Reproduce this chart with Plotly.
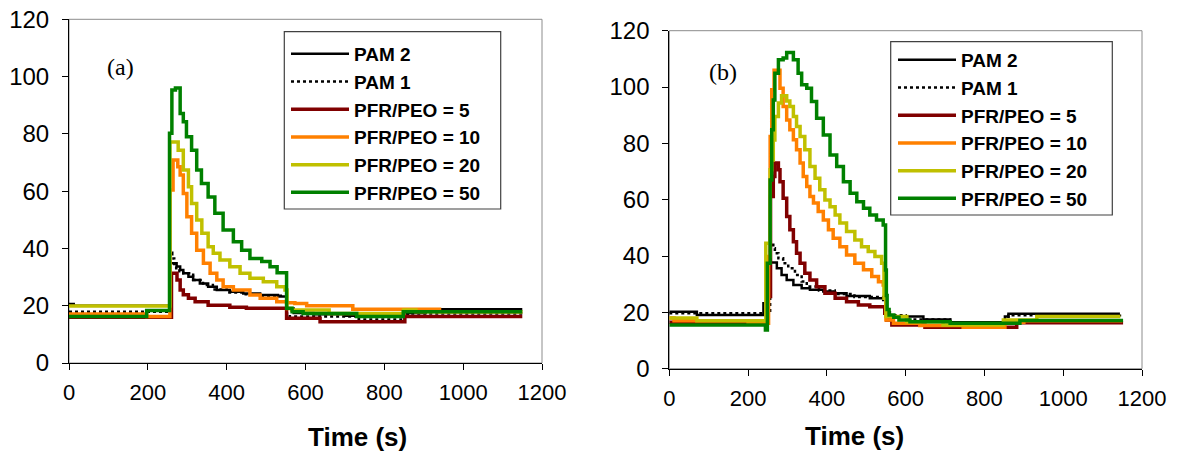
import plotly.graph_objects as go

# ---- panel (a) ----
A_PAM2_T = [0, 12, 257, 273, 282, 290, 303, 315, 332, 353, 375, 408, 442, 485, 530, 552, 570, 620, 700, 860, 905, 1150]
A_PAM2_Y = [20.6, 20.0, 34.8, 33.7, 32.5, 31.3, 30.1, 29.0, 27.8, 26.6, 25.5, 24.9, 24.3, 23.7, 23.2, 19.0, 17.5, 17.0, 16.5, 17.5, 18.8, 18.8]

A_PAM1_T = [0, 257, 262, 267, 272, 280, 290, 315, 340, 365, 400, 440, 480, 552, 560, 735, 850, 1150]
A_PAM1_Y = [17.9, 38.5, 36.5, 34.6, 33.1, 32.0, 31.3, 29.0, 27.2, 25.7, 24.6, 24.0, 23.5, 17.3, 16.2, 15.2, 17.3, 17.3]

A_R5_T = [0, 260, 274, 282, 290, 303, 320, 353, 408, 450, 552, 637, 852, 1150]
A_R5_Y = [16.0, 31.3, 29.0, 25.5, 23.8, 22.6, 21.4, 20.2, 19.5, 19.1, 15.6, 14.4, 16.2, 16.2]

A_R10_T = [0, 197, 256, 264, 276, 282, 290, 299, 311, 324, 341, 358, 375, 391, 417, 459, 485, 527, 552, 573, 603, 720, 940, 1150]
A_R10_Y = [17.1, 16.2, 60.4, 70.9, 68.5, 65.6, 59.2, 51.1, 45.3, 39.4, 34.8, 31.3, 29.0, 26.6, 25.5, 23.7, 22.6, 21.4, 21.0, 20.8, 20.0, 18.8, 17.9, 17.9]

A_R20_T = [0, 256, 277, 290, 303, 311, 324, 337, 353, 366, 383, 408, 434, 459, 493, 527, 548, 553, 565, 660, 849, 880, 1150]
A_R20_Y = [19.9, 77.2, 74.3, 67.4, 61.5, 55.7, 49.9, 45.3, 40.6, 38.3, 36.0, 33.6, 31.3, 29.6, 28.4, 26.6, 25.5, 19.0, 18.5, 17.3, 18.5, 17.9, 17.9]

A_R50_T = [0, 197, 255, 261, 270, 282, 290, 298, 311, 324, 336, 353, 370, 391, 417, 438, 459, 489, 510, 528, 552, 566, 594, 730, 848, 1150]
A_R50_Y = [16.2, 18.3, 80.2, 95.3, 96.0, 87.1, 84.2, 79.0, 74.3, 67.4, 62.7, 58.0, 52.3, 46.4, 42.3, 39.4, 36.5, 35.4, 33.6, 31.5, 19.1, 17.9, 17.3, 16.2, 17.9, 17.9]

# ---- panel (b) ----
B_PAM2_T = [0, 70, 239, 250, 273, 285, 298, 315, 336, 357, 391, 416, 450, 509, 543, 550, 560, 645, 713, 852, 861, 1144]
B_PAM2_Y = [20.2, 19.1, 23.2, 37.7, 35.7, 33.3, 31.5, 29.7, 28.6, 28.0, 27.4, 26.8, 25.8, 25.0, 24.4, 20.0, 18.5, 17.5, 16.5, 18.5, 19.5, 19.5]

B_PAM1_T = [0, 256, 264, 268, 277, 289, 302, 319, 336, 349, 380, 420, 470, 545, 552, 600, 713, 861, 1144]
B_PAM1_Y = [19.7, 44.5, 42.8, 41.0, 39.2, 37.4, 35.7, 33.3, 31.0, 29.2, 27.8, 26.5, 25.5, 24.5, 19.0, 17.5, 16.5, 19.0, 19.2]

B_R5_T = [0, 251, 257, 264, 268, 277, 281, 289, 298, 306, 315, 323, 332, 344, 357, 374, 395, 421, 450, 480, 509, 547, 552, 565, 649, 882, 1152]
B_R5_Y = [16.5, 25.6, 61.1, 68.2, 73.0, 70.6, 66.4, 60.5, 54.0, 49.3, 45.1, 41.0, 37.4, 33.9, 31.5, 29.1, 26.8, 25.0, 23.8, 22.6, 22.0, 19.7, 17.3, 15.5, 14.7, 16.3, 16.3]

B_R10_T = [0, 12, 200, 252, 256, 260, 266, 281, 289, 298, 306, 315, 323, 332, 340, 349, 357, 366, 378, 391, 404, 416, 433, 450, 471, 493, 514, 531, 543, 550, 569, 636, 746, 852, 900, 1150]
B_R10_Y = [18.0, 17.0, 16.1, 39.8, 82.4, 99.0, 106.0, 99.6, 93.1, 88.3, 84.8, 81.3, 77.7, 73.0, 68.2, 64.7, 61.1, 58.8, 55.8, 52.8, 49.3, 46.3, 43.3, 40.4, 37.4, 35.1, 32.7, 30.9, 29.7, 17.3, 16.1, 15.3, 14.7, 16.5, 17.0, 17.0]

B_R20_T = [0, 70, 245, 256, 260, 264, 268, 277, 285, 298, 306, 315, 323, 332, 344, 357, 370, 382, 395, 408, 421, 433, 450, 471, 488, 505, 522, 539, 545, 550, 603, 695, 848, 933, 1145]
B_R20_Y = [18.0, 17.0, 44.5, 70.6, 74.1, 81.2, 89.5, 94.3, 96.9, 95.0, 93.1, 89.5, 86.0, 82.4, 77.7, 71.8, 67.6, 63.5, 59.9, 57.5, 54.6, 51.7, 48.7, 45.7, 43.3, 41.6, 39.8, 37.4, 25.0, 18.5, 16.7, 15.5, 17.3, 18.5, 18.5]

B_R50_T = [0, 244, 249, 256, 260, 264, 268, 277, 289, 298, 315, 327, 336, 349, 361, 374, 391, 408, 425, 442, 459, 476, 493, 509, 526, 543, 549, 551, 553, 558, 570, 583, 611, 713, 890, 1152]
B_R50_Y = [15.5, 13.7, 37.4, 67.0, 84.8, 95.4, 104.9, 109.7, 110.3, 112.3, 109.7, 104.9, 100.8, 99.6, 94.9, 88.9, 83.0, 75.9, 71.8, 66.4, 62.3, 59.3, 57.0, 54.6, 52.8, 51.0, 35.0, 26.0, 21.0, 19.1, 18.3, 17.3, 16.7, 16.1, 17.1, 17.1]

NAMES = ["PAM 2", "PAM 1", "PFR/PEO = 5", "PFR/PEO = 10", "PFR/PEO = 20", "PFR/PEO = 50"]
COLORS = ["#000000", "#000000", "#800000", "#FF8000", "#C0C000", "#008000"]
DASHES = ["solid", "dot", "solid", "solid", "solid", "solid"]
WIDTHS = [2.5, 2.5, 3.5, 3.5, 3.5, 3.5]

PANEL_A = [(A_PAM2_T, A_PAM2_Y), (A_PAM1_T, A_PAM1_Y), (A_R5_T, A_R5_Y),
           (A_R10_T, A_R10_Y), (A_R20_T, A_R20_Y), (A_R50_T, A_R50_Y)]
PANEL_B = [(B_PAM2_T, B_PAM2_Y), (B_PAM1_T, B_PAM1_Y), (B_R5_T, B_R5_Y),
           (B_R10_T, B_R10_Y), (B_R20_T, B_R20_Y), (B_R50_T, B_R50_Y)]

W, H = 1178, 452
FONT = "Liberation Sans, Arial, sans-serif"

fig = go.Figure()

for panel, (xa, ya, leg) in zip([PANEL_A, PANEL_B], [("x", "y", "legend"), ("x2", "y2", "legend2")]):
    for (t, v), name, col, dash, w in zip(panel, NAMES, COLORS, DASHES, WIDTHS):
        fig.add_trace(go.Scatter(
            x=t, y=v, name=name, mode="lines", line_shape="hv",
            line=dict(color=col, dash=dash, width=w),
            xaxis=xa, yaxis=ya, legend=leg,
        ))

# plot areas (pixel geometry)
dom_a = dict(x=[69 / W, 542 / W], y=[1 - 363 / H, 1 - 19.3 / H])
dom_b = dict(x=[669.3 / W, 1142 / W], y=[1 - 368.7 / H, 1 - 30.7 / H])

xcommon = dict(range=[0, 1200], dtick=200, tick0=0, showgrid=False, zeroline=False,
               showline=True, linecolor="black", linewidth=1, automargin=False,
               ticks="outside", ticklen=6, tickcolor="black",
               tickfont=dict(family=FONT, size=22, color="black"), ticklabelstandoff=4)
ycommon = dict(range=[0, 120], dtick=20, tick0=0, showgrid=False, zeroline=False,
               showline=True, linecolor="black", linewidth=1, automargin=False,
               ticks="outside", ticklen=6, tickcolor="black",
               tickfont=dict(family=FONT, size=24, color="black"), ticklabelstandoff=8)

legcommon = dict(bgcolor="rgba(0,0,0,0)", borderwidth=0, xanchor="left", yanchor="top",
                 font=dict(family=FONT, size=19, color="black", weight="bold"),
                 tracegroupgap=0, itemwidth=58)

fig.update_layout(
    width=W, height=H, margin=dict(l=0, r=0, t=0, b=0, autoexpand=False),
    paper_bgcolor="white", plot_bgcolor="white",
    xaxis=dict(domain=dom_a["x"], anchor="y", **xcommon),
    yaxis=dict(domain=dom_a["y"], anchor="x", **ycommon),
    xaxis2=dict(domain=dom_b["x"], anchor="y2", **xcommon),
    yaxis2=dict(domain=dom_b["y"], anchor="x2", **ycommon),
    legend=dict(x=286 / W, y=1 - 35 / H, **legcommon),
    legend2=dict(x=893 / W, y=1 - 41 / H, **legcommon),
    showlegend=True,
)

# grey frame on top/right of each plot, legend boxes
for xr, yr in [("x domain", "y domain"), ("x2 domain", "y2 domain")]:
    fig.add_shape(type="rect", xref=xr, yref=yr, x0=0, x1=1, y0=0, y1=1,
                  line=dict(color="#8c8c8c", width=1), layer="below")
for x0, x1, y0, y1 in [(284.3, 500.7, 31.7, 209), (890.7, 1112.3, 41.7, 215)]:
    fig.add_shape(type="rect", xref="paper", yref="paper",
                  x0=x0 / W, x1=x1 / W, y0=1 - y1 / H, y1=1 - y0 / H,
                  line=dict(color="#404040", width=1.2), fillcolor="rgba(0,0,0,0)")

# panel letters
fig.add_annotation(text="(a)", x=131, y=103.4, xref="x", yref="y", showarrow=False,
                   font=dict(family="Liberation Serif, Times New Roman, serif", size=24, color="black"))
fig.add_annotation(text="(b)", x=136, y=105.5, xref="x2", yref="y2", showarrow=False,
                   font=dict(family="Liberation Serif, Times New Roman, serif", size=24, color="black"))

# axis titles
for cx, cy in [(305.5, 437), (905.6, 436)]:
    fig.add_annotation(text="<b>Time (s)</b>", x=cx / W, y=1 - cy / H, xref="paper", yref="paper",
                       showarrow=False, yanchor="middle",
                       font=dict(family=FONT, size=26, color="black"))

# page body margin would shift the fixed-size figure by 8px
fig.write_html("out.html", config={"displayModeBar": False},
               post_script="document.body.style.margin='0';")
